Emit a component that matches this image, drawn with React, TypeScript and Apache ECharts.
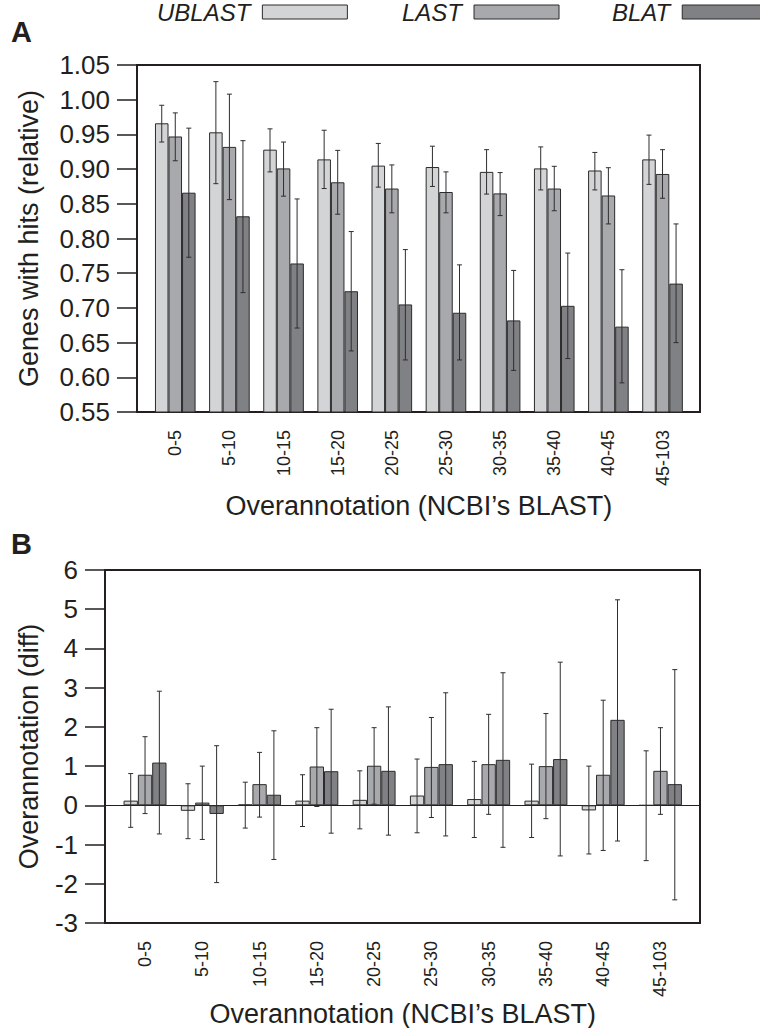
import React, { useEffect, useRef } from "react";
import * as echarts from "echarts";

const categories = ["0-5", "5-10", "10-15", "15-20", "20-25", "25-30", "30-35", "35-40", "40-45", "45-103"];
const seriesNames = ["UBLAST", "LAST", "BLAT"];

// Panel A: genes with hits (relative)
const ublastA = [0.966, 0.953, 0.928, 0.914, 0.905, 0.903, 0.896, 0.901, 0.898, 0.914];
const ublastAHi = [0.992, 1.026, 0.958, 0.956, 0.937, 0.933, 0.928, 0.932, 0.924, 0.949];
const ublastALo = [0.939, 0.879, 0.896, 0.872, 0.874, 0.875, 0.864, 0.870, 0.870, 0.878];
const lastA = [0.947, 0.932, 0.901, 0.881, 0.872, 0.867, 0.865, 0.872, 0.862, 0.893];
const lastAHi = [0.981, 1.008, 0.939, 0.927, 0.906, 0.896, 0.895, 0.904, 0.902, 0.928];
const lastALo = [0.912, 0.856, 0.861, 0.835, 0.837, 0.837, 0.833, 0.840, 0.821, 0.858];
const blatA = [0.866, 0.832, 0.764, 0.724, 0.705, 0.693, 0.682, 0.703, 0.673, 0.735];
const blatAHi = [0.959, 0.941, 0.857, 0.810, 0.784, 0.762, 0.754, 0.779, 0.755, 0.821];
const blatALo = [0.773, 0.722, 0.671, 0.638, 0.625, 0.625, 0.610, 0.627, 0.592, 0.650];

// Panel B: overannotation (diff)
const ublastB = [0.12, -0.14, 0.02, 0.12, 0.14, 0.25, 0.16, 0.12, -0.13, 0.0];
const ublastBHi = [0.81, 0.55, 0.59, 0.78, 0.88, 1.18, 1.12, 1.05, 1.0, 1.39];
const ublastBLo = [-0.56, -0.85, -0.58, -0.54, -0.6, -0.7, -0.82, -0.82, -1.24, -1.41];
const lastB = [0.78, 0.07, 0.54, 0.99, 1.01, 0.98, 1.05, 1.0, 0.78, 0.88];
const lastBHi = [1.75, 1.0, 1.35, 1.98, 1.98, 2.24, 2.32, 2.34, 2.68, 1.98];
const lastBLo = [-0.21, -0.87, -0.3, -0.03, 0.03, -0.31, -0.23, -0.34, -1.15, -0.23];
const blatB = [1.09, -0.22, 0.27, 0.87, 0.88, 1.05, 1.16, 1.18, 2.18, 0.54];
const blatBHi = [2.91, 1.52, 1.9, 2.45, 2.51, 2.87, 3.38, 3.65, 5.24, 3.46];
const blatBLo = [-0.73, -1.97, -1.38, -0.71, -0.76, -0.78, -1.07, -1.29, -0.91, -2.41];

const colors = ["#d3d4d6", "#a8a9ac", "#808184"];
const ink = "#231f20";
const FONT = "'Liberation Sans', Arial, Helvetica, sans-serif";

function errRender(k: number) {
  return (params: any, api: any) => {
    const i = api.value(0);
    const hi = api.value(1);
    const lo = api.value(2);
    const band = api.size([1, 0])[0];
    const bw = (band * 0.75) / 3;
    const cx = api.coord([i, 0])[0] + (k - 1) * bw;
    const yh = api.coord([i, hi])[1];
    const yl = api.coord([i, lo])[1];
    const cap = 2.5;
    const style = { stroke: "#2e2e2e", lineWidth: 1 };
    return {
      type: "group",
      children: [
        { type: "line", shape: { x1: cx, y1: yh, x2: cx, y2: yl }, style },
        { type: "line", shape: { x1: cx - cap, y1: yh, x2: cx + cap, y2: yh }, style },
        { type: "line", shape: { x1: cx - cap, y1: yl, x2: cx + cap, y2: yl }, style },
      ],
    };
  };
}

export default function App() {
  const ref = useRef<HTMLDivElement>(null);
  useEffect(() => {
    if (!ref.current) return;
    const chart = echarts.init(ref.current, undefined, { renderer: "svg" });

    const valsA = [ublastA, lastA, blatA];
    const hiA = [ublastAHi, lastAHi, blatAHi];
    const loA = [ublastALo, lastALo, blatALo];
    const valsB = [ublastB, lastB, blatB];
    const hiB = [ublastBHi, lastBHi, blatBHi];
    const loB = [ublastBLo, lastBLo, blatBLo];

    const series: any[] = [];
    seriesNames.forEach((name, k) => {
      series.push({
        name,
        type: "bar",
        xAxisIndex: 1,
        yAxisIndex: 1,
        data: valsA[k],
        barGap: "0%",
        barCategoryGap: "25%",
        itemStyle: { color: colors[k], borderColor: "#2b2b2b", borderWidth: 1 },
      });
    });
    seriesNames.forEach((name, k) => {
      series.push({
        type: "custom",
        xAxisIndex: 1,
        yAxisIndex: 1,
        z: 5,
        renderItem: errRender(k),
        encode: { x: 0, y: [1, 2] },
        data: categories.map((c, i) => [i, hiA[k][i], loA[k][i]]),
      });
    });
    seriesNames.forEach((name, k) => {
      series.push({
        name,
        type: "bar",
        xAxisIndex: 3,
        yAxisIndex: 3,
        data: valsB[k],
        barGap: "0%",
        barCategoryGap: "25%",
        itemStyle: { color: colors[k], borderColor: "#2b2b2b", borderWidth: 1 },
      });
    });
    seriesNames.forEach((name, k) => {
      series.push({
        type: "custom",
        xAxisIndex: 3,
        yAxisIndex: 3,
        z: 5,
        renderItem: errRender(k),
        encode: { x: 0, y: [1, 2] },
        data: categories.map((c, i) => [i, hiB[k][i], loB[k][i]]),
      });
    });

    const tickLabel = { fontSize: 26, color: ink, fontFamily: FONT };
    const catLabel = { rotate: 90, fontSize: 18, color: ink, fontFamily: FONT, margin: 18 };
    const titleStyle = { fontSize: 27, color: ink, fontFamily: FONT };

    const legendCommon = {
      top: 0,
      padding: 0,
      orient: "horizontal",
      align: "right",
      itemWidth: 85,
      itemHeight: 14,
      icon: "rect",
      itemStyle: { borderColor: "#2b2b2b", borderWidth: 1 },
      textStyle: {
        fontSize: 24,
        fontStyle: "italic",
        fontFamily: FONT,
        color: ink,
        padding: [0, 7, 0, 0],
      },
    };

    const gridCommon = { outerBoundsMode: "none", containLabel: false };

    chart.setOption({
      animation: false,
      backgroundColor: "#ffffff",
      title: [
        { text: "A", left: 11, top: 17, padding: 0, textStyle: { fontSize: 29, fontWeight: "bold", color: ink, fontFamily: FONT } },
        { text: "B", left: 11, top: 529, padding: 0, textStyle: { fontSize: 29, fontWeight: "bold", color: ink, fontFamily: FONT } },
      ],
      legend: [
        { ...legendCommon, left: 157, data: ["UBLAST"] },
        { ...legendCommon, left: 402, data: ["LAST"] },
        { ...legendCommon, left: 612, data: ["BLAT"] },
      ],
      grid: [
        { ...gridCommon, left: 137, top: 65, width: 563, height: 347, show: true, borderColor: ink, borderWidth: 2, backgroundColor: "transparent" },
        { ...gridCommon, left: 148.2, top: 65, width: 541.4, height: 347 },
        { ...gridCommon, left: 105, top: 570, width: 595, height: 353, show: true, borderColor: ink, borderWidth: 2, backgroundColor: "transparent" },
        { ...gridCommon, left: 116.4, top: 570, width: 572.7, height: 353 },
      ],
      xAxis: [
        { gridIndex: 0, type: "value", min: 0, max: 1, show: false },
        {
          gridIndex: 1,
          type: "category",
          data: categories,
          axisLine: { show: false },
          axisTick: { show: false },
          axisLabel: catLabel,
          name: "Overannotation (NCBI\u2019s BLAST)",
          nameLocation: "middle",
          nameGap: 80,
          nameTextStyle: titleStyle,
        },
        {
          gridIndex: 2,
          type: "value",
          min: 0,
          max: 1,
          axisLine: { show: true, onZero: true, lineStyle: { color: ink, width: 1 } },
          axisTick: { show: false },
          axisLabel: { show: false },
          splitLine: { show: false },
        },
        {
          gridIndex: 3,
          type: "category",
          data: categories,
          axisLine: { show: false },
          axisTick: { show: false },
          axisLabel: catLabel,
          name: "Overannotation (NCBI\u2019s BLAST)",
          nameLocation: "middle",
          nameGap: 76,
          nameTextStyle: titleStyle,
        },
      ],
      yAxis: [
        {
          gridIndex: 0,
          type: "value",
          min: 0.55,
          max: 1.05,
          interval: 0.05,
          axisLine: { show: true, lineStyle: { color: ink, width: 2 } },
          axisTick: { show: true, inside: false, length: 20, lineStyle: { color: ink, width: 1.5 } },
          axisLabel: { ...tickLabel, margin: 27, formatter: (v: number) => v.toFixed(2) },
          splitLine: { show: false },
          name: "Genes with hits (relative)",
          nameLocation: "middle",
          nameRotate: 90,
          nameGap: 95,
          nameTextStyle: titleStyle,
        },
        { gridIndex: 1, type: "value", min: 0.55, max: 1.05, interval: 0.05, show: false },
        {
          gridIndex: 2,
          type: "value",
          min: -3,
          max: 6,
          interval: 1,
          axisLine: { show: true, onZero: false, lineStyle: { color: ink, width: 2 } },
          axisTick: { show: true, inside: false, length: 20, lineStyle: { color: ink, width: 1.5 } },
          axisLabel: { ...tickLabel, margin: 27 },
          splitLine: { show: false },
          name: "Overannotation (diff)",
          nameLocation: "middle",
          nameRotate: 90,
          nameGap: 63,
          nameTextStyle: titleStyle,
        },
        { gridIndex: 3, type: "value", min: -3, max: 6, interval: 1, show: false },
      ],
      series,
    });
    return () => chart.dispose();
  }, []);
  return (
    <div
      ref={ref}
      style={{ position: "fixed", left: 0, top: 0, width: 760, height: 1028, background: "#fff" }}
    />
  );
}
